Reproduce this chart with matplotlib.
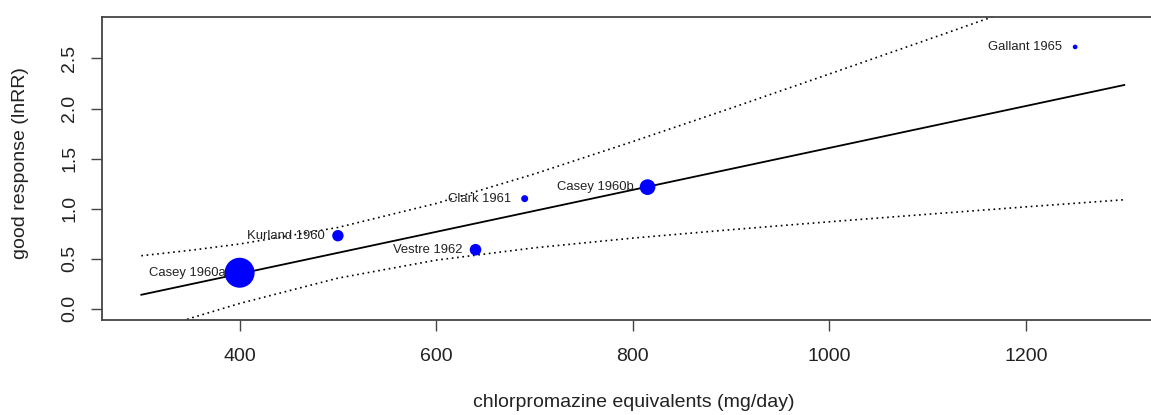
import matplotlib
matplotlib.use("Agg")
import matplotlib.pyplot as plt

plt.rcParams['font.family'] = ['Liberation Sans', 'DejaVu Sans']

# Studies
studies = ["Casey 1960a", "Kurland 1960", "Vestre 1962", "Clark 1961", "Casey 1960b", "Gallant 1965"]
dose = [400, 500, 640, 690, 815, 1250]
lnrr = [0.36, 0.73, 0.59, 1.10, 1.215, 2.615]
weights = [30.0, 11.4, 11.6, 7.0, 15.7, 4.7]   # relative point diameter (study weight)

# Meta-regression fit and confidence band
fit_x = [300, 1300]
fit_y = [0.14, 2.235]
band_x = [300, 350, 400, 500, 600, 700, 800, 900, 1000, 1100, 1200, 1300]
band_upper = [0.530, 0.584, 0.647, 0.812, 1.052, 1.347, 1.670, 2.004, 2.345, 2.688, 3.034, 3.381]
band_lower = [-0.250, -0.094, 0.053, 0.306, 0.486, 0.609, 0.706, 0.790, 0.869, 0.944, 1.018, 1.089]

xticks = [400, 600, 800, 1000, 1200]
yticks = [0.0, 0.5, 1.0, 1.5, 2.0, 2.5]

W, H, DPI = 1151, 415, 100
fig = plt.figure(figsize=(W / DPI, H / DPI), dpi=DPI)
left_px, right_px, top_px, bot_px = 102, 1163.6, 17, 320
ax = fig.add_axes([left_px / W, 1 - bot_px / H, (right_px - left_px) / W, (bot_px - top_px) / H])

axcol = '#444444'
ax.plot(fit_x, fit_y, color='black', lw=1.3, zorder=2)
ax.plot(band_x, band_upper, color='black', lw=1.2, linestyle=(0, (1, 2.2)), zorder=2)
ax.plot(band_x, band_lower, color='black', lw=1.2, linestyle=(0, (1, 2.2)), zorder=2)

px_to_pt = 72.0 / DPI
sizes = [(w * px_to_pt) ** 2 for w in weights]
ax.scatter(dose, lnrr, s=sizes, color='#0000ff', edgecolors='none', zorder=3)

for name, x, y in zip(studies, dose, lnrr):
    ax.annotate(name, (x, y), xytext=(-13.5 * px_to_pt, 0), textcoords='offset points',
                ha='right', va='center', fontsize=9.4, color='#222222', zorder=4)

ax.set_xlim(260, 1340)
ax.set_ylim(-0.112, 2.914)
ax.set_xticks(xticks)
ax.set_xticklabels([str(v) for v in xticks])
ax.set_yticks(yticks)
ax.set_yticklabels([f"{v:.1f}" for v in yticks], rotation=90, va='center')

for s in ax.spines.values():
    s.set_color(axcol)
    s.set_linewidth(1.3)
ax.tick_params(axis='both', colors=axcol, labelcolor='#222222', labelsize=14,
               length=8, width=1.0, direction='out')
ax.tick_params(axis='x', pad=12)
ax.tick_params(axis='y', pad=9)

fig.text(634 / W, 1 - 407 / H, "chlorpromazine equivalents (mg/day)", ha='center', va='baseline',
         fontsize=14, color='#222222')
fig.text(21 / W, 1 - 163 / H, "good response (lnRR)", ha='center', va='center', rotation=90,
         fontsize=14, color='#222222')

fig.savefig("out.png", dpi=DPI)
